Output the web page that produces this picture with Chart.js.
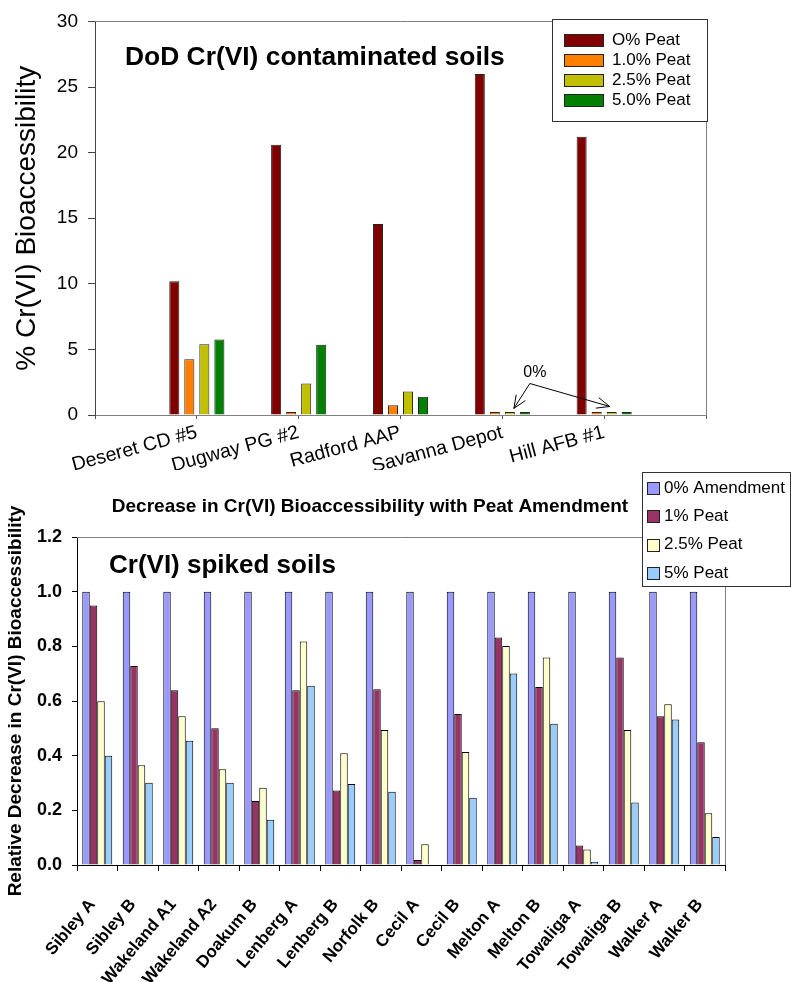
<!DOCTYPE html>
<html>
<head>
<meta charset="utf-8">
<script src="https://cdn.jsdelivr.net/npm/chart.js@4.4.1/dist/chart.umd.min.js"></script>
<style>
  html, body { margin: 0; padding: 0; background: #fff; }
  canvas { position: absolute; left: 0; }
  #dodChart { top: 0; }
  #spikedChart { top: 470px; }
</style>
</head>
<body>
<canvas id="dodChart" width="791" height="470"></canvas>
<canvas id="spikedChart" width="791" height="512"></canvas>
<script>
// DoD field soils, % Cr(VI) bioaccessibility by peat dose
const sites = ['Deseret CD #5', 'Dugway PG #2', 'Radford AAP', 'Savanna Depot', 'Hill AFB #1'];
const peat0 = [10.2, 20.6, 14.55, 26.0, 21.2];
const peat10 = [4.25, 0.1, 0.75, 0.12, 0.12];
const peat25 = [5.4, 2.4, 1.8, 0.12, 0.12];
const peat50 = [5.75, 5.35, 1.4, 0.12, 0.12];
const dodTicks = [0, 5, 10, 15, 20, 25, 30];

// spiked soils, relative decrease in bioaccessibility
const soils = ['Sibley A', 'Sibley B', 'Wakeland A1', 'Wakeland A2', 'Doakum B', 'Lenberg A',
  'Lenberg B', 'Norfolk B', 'Cecil A', 'Cecil B', 'Melton A', 'Melton B', 'Towaliga A',
  'Towaliga B', 'Walker A', 'Walker B'];
const amend0 = [1, 1, 1, 1, 1, 1, 1, 1, 1, 1, 1, 1, 1, 1, 1, 1];
const amend1 = [0.949, 0.728, 0.639, 0.5, 0.234, 0.639, 0.273, 0.643, 0.018, 0.552, 0.832, 0.651, 0.071, 0.759, 0.544, 0.449];
const amend25 = [0.599, 0.365, 0.544, 0.35, 0.283, 0.818, 0.409, 0.494, 0.076, 0.413, 0.801, 0.759, 0.057, 0.494, 0.588, 0.189];
const amend5 = [0.40, 0.301, 0.455, 0.301, 0.166, 0.656, 0.296, 0.268, 0, 0.246, 0.701, 0.517, 0.012, 0.229, 0.532, 0.102];
const spikedTicks = [0, 0.2, 0.4, 0.6, 0.8, 1.0, 1.2];

const FONT = '"Liberation Sans", Arial, sans-serif';

// grey frame round the plot area (top and right sides)
const plotFrame = {
  id: 'plotFrame',
  beforeDatasetsDraw(chart, args, opts) {
    const a = chart.chartArea, ctx = chart.ctx;
    ctx.save();
    ctx.strokeStyle = opts.color || '#808080';
    ctx.lineWidth = 1;
    ctx.beginPath();
    ctx.moveTo(a.left, Math.round(a.top) + 0.5);
    ctx.lineTo(Math.round(a.right) + 0.5, Math.round(a.top) + 0.5);
    ctx.lineTo(Math.round(a.right) + 0.5, a.bottom);
    ctx.stroke();
    ctx.restore();
  }
};

// boxed legend drawn over the plot
const boxLegend = {
  id: 'boxLegend',
  afterDraw(chart, args, o) {
    const ctx = chart.ctx;
    ctx.save();
    ctx.fillStyle = '#fff';
    ctx.fillRect(o.x, o.y, o.w, o.h);
    ctx.strokeStyle = '#333';
    ctx.lineWidth = 1;
    ctx.strokeRect(o.x + 0.5, o.y + 0.5, o.w, o.h);
    ctx.font = o.font;
    ctx.textBaseline = 'middle';
    chart.data.datasets.forEach((ds, i) => {
      const cy = o.y + o.first + i * o.step;
      const top = Math.round(cy - o.sh / 2) + 0.5;
      ctx.fillStyle = ds.backgroundColor;
      ctx.fillRect(o.sx, top, o.sw, o.sh);
      ctx.strokeStyle = '#222';
      ctx.strokeRect(o.sx + 0.5, top, o.sw, o.sh);
      ctx.fillStyle = '#000';
      ctx.fillText(ds.label, o.tx, cy);
    });
    ctx.restore();
  }
};

// free text placed on the chart
const notes = {
  id: 'notes',
  afterDraw(chart, args, o) {
    const ctx = chart.ctx;
    ctx.save();
    (o.items || []).forEach(t => {
      ctx.font = t.font;
      ctx.fillStyle = '#000';
      ctx.textAlign = t.align || 'left';
      ctx.textBaseline = 'middle';
      ctx.fillText(t.text, t.x, t.y);
    });
    if (o.arrows) o.arrows(chart, ctx);
    ctx.restore();
  }
};

function arrow(ctx, x0, y0, x1, y1) {
  const ang = Math.atan2(y1 - y0, x1 - x0), len = 14, spread = 0.4;
  ctx.beginPath();
  ctx.moveTo(x0, y0);
  ctx.lineTo(x1, y1);
  ctx.moveTo(x1 - len * Math.cos(ang - spread), y1 - len * Math.sin(ang - spread));
  ctx.lineTo(x1, y1);
  ctx.lineTo(x1 - len * Math.cos(ang + spread), y1 - len * Math.sin(ang + spread));
  ctx.stroke();
}

// empty slots either side so the sites sit one category in from each edge
const pad = arr => [null].concat(arr, [null]);

new Chart(document.getElementById('dodChart'), {
  type: 'bar',
  data: {
    labels: [''].concat(sites, ['']),
    datasets: [
      { label: 'O% Peat', data: pad(peat0), backgroundColor: '#800000' },
      { label: '1.0% Peat', data: pad(peat10), backgroundColor: '#FF8000' },
      { label: '2.5% Peat', data: pad(peat25), backgroundColor: '#C0C000' },
      { label: '5.0% Peat', data: pad(peat50), backgroundColor: '#008000' }
    ]
  },
  options: {
    responsive: false,
    animation: false,
    layout: { padding: { left: 0, top: 15, right: 85, bottom: 0 } },
    datasets: { bar: { borderColor: '#222', borderWidth: 1, categoryPercentage: 0.59, barPercentage: 0.67, minBarLength: 3 } },
    scales: {
      x: {
        offset: false,
        grid: { offset: false, drawOnChartArea: false, drawTicks: true, tickLength: 4, color: '#555' },
        border: { color: '#808080' },
        ticks: { autoSkip: false, minRotation: 15, maxRotation: 15, padding: 2, color: '#000', font: { family: FONT, size: 19.5 } },
        afterFit(s) { s.height = 55; }
      },
      y: {
        min: 0, max: 30,
        afterBuildTicks(s) { s.ticks = dodTicks.map(v => ({ value: v })); },
        grid: { drawOnChartArea: false, drawTicks: true, tickLength: 7, color: '#444' },
        border: { color: '#444' },
        ticks: { padding: 10, color: '#000', font: { family: FONT, size: 19 } },
        title: { display: true, text: '% Cr(VI) Bioaccessibility', color: '#000', font: { family: FONT, size: 28 }, padding: { top: 10, bottom: 0 } },
        afterFit(s) { s.width = 95; }
      }
    },
    plugins: {
      legend: { display: false },
      tooltip: { enabled: false },
      plotFrame: { color: '#808080' },
      boxLegend: { x: 552, y: 19, w: 155, h: 102, first: 21, step: 20, sx: 564, sw: 39, sh: 12, tx: 612, font: '17px ' + FONT },
      notes: {
        items: [
          { text: 'DoD Cr(VI) contaminated soils', x: 125, y: 58, font: 'bold 26.4px ' + FONT }
        ],
        arrows(chart, ctx) {
          const ys = chart.scales.y;
          const sav = chart.getDatasetMeta(2).data[4];
          const hill = chart.getDatasetMeta(2).data[5];
          const ox = sav.x + 20, oy = ys.getPixelForValue(2.4);
          ctx.font = '16px ' + FONT;
          ctx.fillStyle = '#000';
          ctx.textAlign = 'center';
          ctx.textBaseline = 'middle';
          ctx.fillText('0%', ox + 5, ys.getPixelForValue(3.2));
          ctx.strokeStyle = '#000';
          ctx.lineWidth = 1;
          arrow(ctx, ox, oy, sav.x + 4, ys.getPixelForValue(0.5));
          arrow(ctx, ox, oy, hill.x - 2, ys.getPixelForValue(0.65));
        }
      }
    }
  },
  plugins: [plotFrame, boxLegend, notes]
});

new Chart(document.getElementById('spikedChart'), {
  type: 'bar',
  data: {
    labels: soils,
    datasets: [
      { label: '0% Amendment', data: amend0, backgroundColor: '#9999FF' },
      { label: '1% Peat', data: amend1, backgroundColor: '#993366' },
      { label: '2.5% Peat', data: amend25, backgroundColor: '#FFFFCC' },
      { label: '5% Peat', data: amend5, backgroundColor: '#99CCFF' }
    ]
  },
  options: {
    responsive: false,
    animation: false,
    layout: { padding: { left: 0, top: 67, right: 66, bottom: 0 } },
    datasets: { bar: { borderColor: '#000', borderWidth: 1, categoryPercentage: 0.74, barPercentage: 1 } },
    scales: {
      x: {
        grid: { drawOnChartArea: false, drawTicks: true, tickLength: 6, color: '#000' },
        border: { color: '#000' },
        ticks: { autoSkip: false, minRotation: 50, maxRotation: 50, padding: 24, labelOffset: -5, color: '#000', font: { family: FONT, size: 17, weight: 'bold' } },
        afterFit(s) { s.height = 117; }
      },
      y: {
        min: 0, max: 1.2,
        afterBuildTicks(s) { s.ticks = spikedTicks.map(v => ({ value: v })); },
        grid: { drawOnChartArea: false, drawTicks: true, tickLength: 5, color: '#000' },
        border: { color: '#000' },
        ticks: { padding: 10, color: '#000', font: { family: FONT, size: 18, weight: 'bold' }, callback: v => v.toFixed(1) },
        title: { display: true, text: 'Relative Decrease in Cr(VI) Bioaccessibility', color: '#000', font: { family: FONT, size: 19, weight: 'bold' }, padding: { top: 4, bottom: 0 } },
        afterFit(s) { s.width = 77; }
      }
    },
    plugins: {
      legend: { display: false },
      tooltip: { enabled: false },
      plotFrame: { color: '#808080' },
      boxLegend: { x: 642, y: 2, w: 148, h: 114, first: 16, step: 28.3, sx: 647, sw: 12, sh: 12, tx: 664, font: '17px ' + FONT },
      notes: {
        items: [
          { text: 'Decrease in Cr(VI) Bioaccessibility with Peat Amendment', x: 370, y: 37, font: 'bold 19px ' + FONT, align: 'center' },
          { text: 'Cr(VI) spiked soils', x: 109, y: 96, font: 'bold 26px ' + FONT }
        ]
      }
    }
  },
  plugins: [plotFrame, boxLegend, notes]
});
</script>
</body>
</html>
